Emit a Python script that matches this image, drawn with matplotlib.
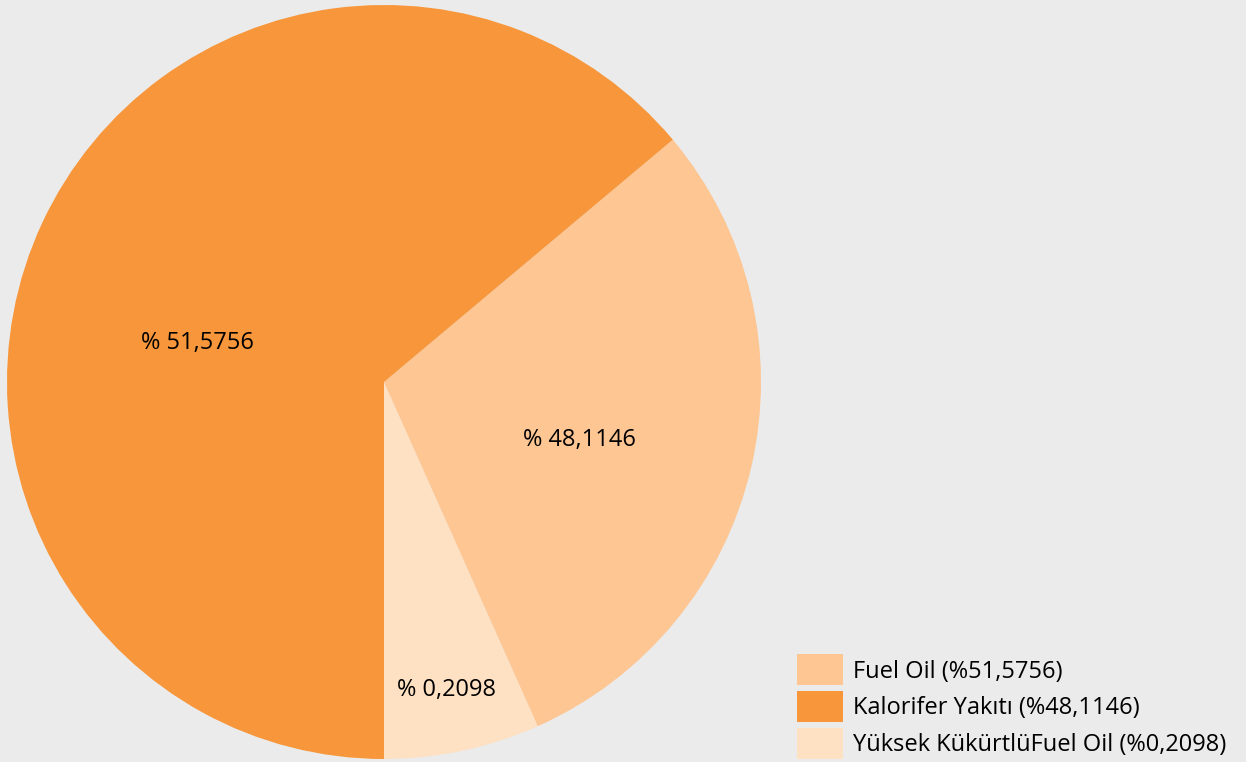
import numpy as np
import matplotlib.pyplot as plt

plt.rcParams['font.family'] = ['Open Sans', 'DejaVu Sans']

# wedge sizes as drawn (share of the circle), starting at 6 o'clock, counterclockwise
names = ['Yüksek KükürtlüFuel Oil', 'Fuel Oil', 'Kalorifer Yakıtı']
sizes = [6.69, 29.42, 63.89]
pct_text = ['% 0,2098', '% 48,1146', '% 51,5756']
legend_names = ['Fuel Oil (%51,5756)', 'Kalorifer Yakıtı (%48,1146)',
                'Yüksek KükürtlüFuel Oil (%0,2098)']
colors = ['#FEE0C3', '#FDC693', '#F7963A']
bg = '#EBEBEB'

fig = plt.figure(figsize=(12.46, 7.62), dpi=100, facecolor=bg)
ax = fig.add_axes([7/1246, 3/762, 754/1246, 754/762])
ax.set_facecolor(bg)

wedges, _ = ax.pie(sizes, colors=colors, startangle=-90, counterclock=True,
                   radius=1.0, wedgeprops=dict(linewidth=0))
ax.set_xlim(-1, 1)
ax.set_ylim(-1, 1)
ax.set_aspect('equal')
ax.axis('off')

# label positions (radius fraction, angle in degrees)
label_pos = [(0.834, -78.6), (0.54, -16.6), (0.505, 168.3)]
for txt, (r, a) in zip(pct_text, label_pos):
    ax.text(r*np.cos(np.radians(a)), r*np.sin(np.radians(a)), txt,
            ha='center', va='center', fontsize=17, color='black')

fs = 17
leg = fig.legend([wedges[1], wedges[2], wedges[0]], legend_names,
                 loc='lower left', bbox_to_anchor=(797/1246, 3/762),
                 frameon=False, fontsize=fs, handlelength=1.95, handleheight=1.64,
                 labelspacing=0.25, handletextpad=0.42, borderaxespad=0.0,
                 borderpad=0.0)

fig.savefig('out.png', dpi=100, facecolor=bg)
